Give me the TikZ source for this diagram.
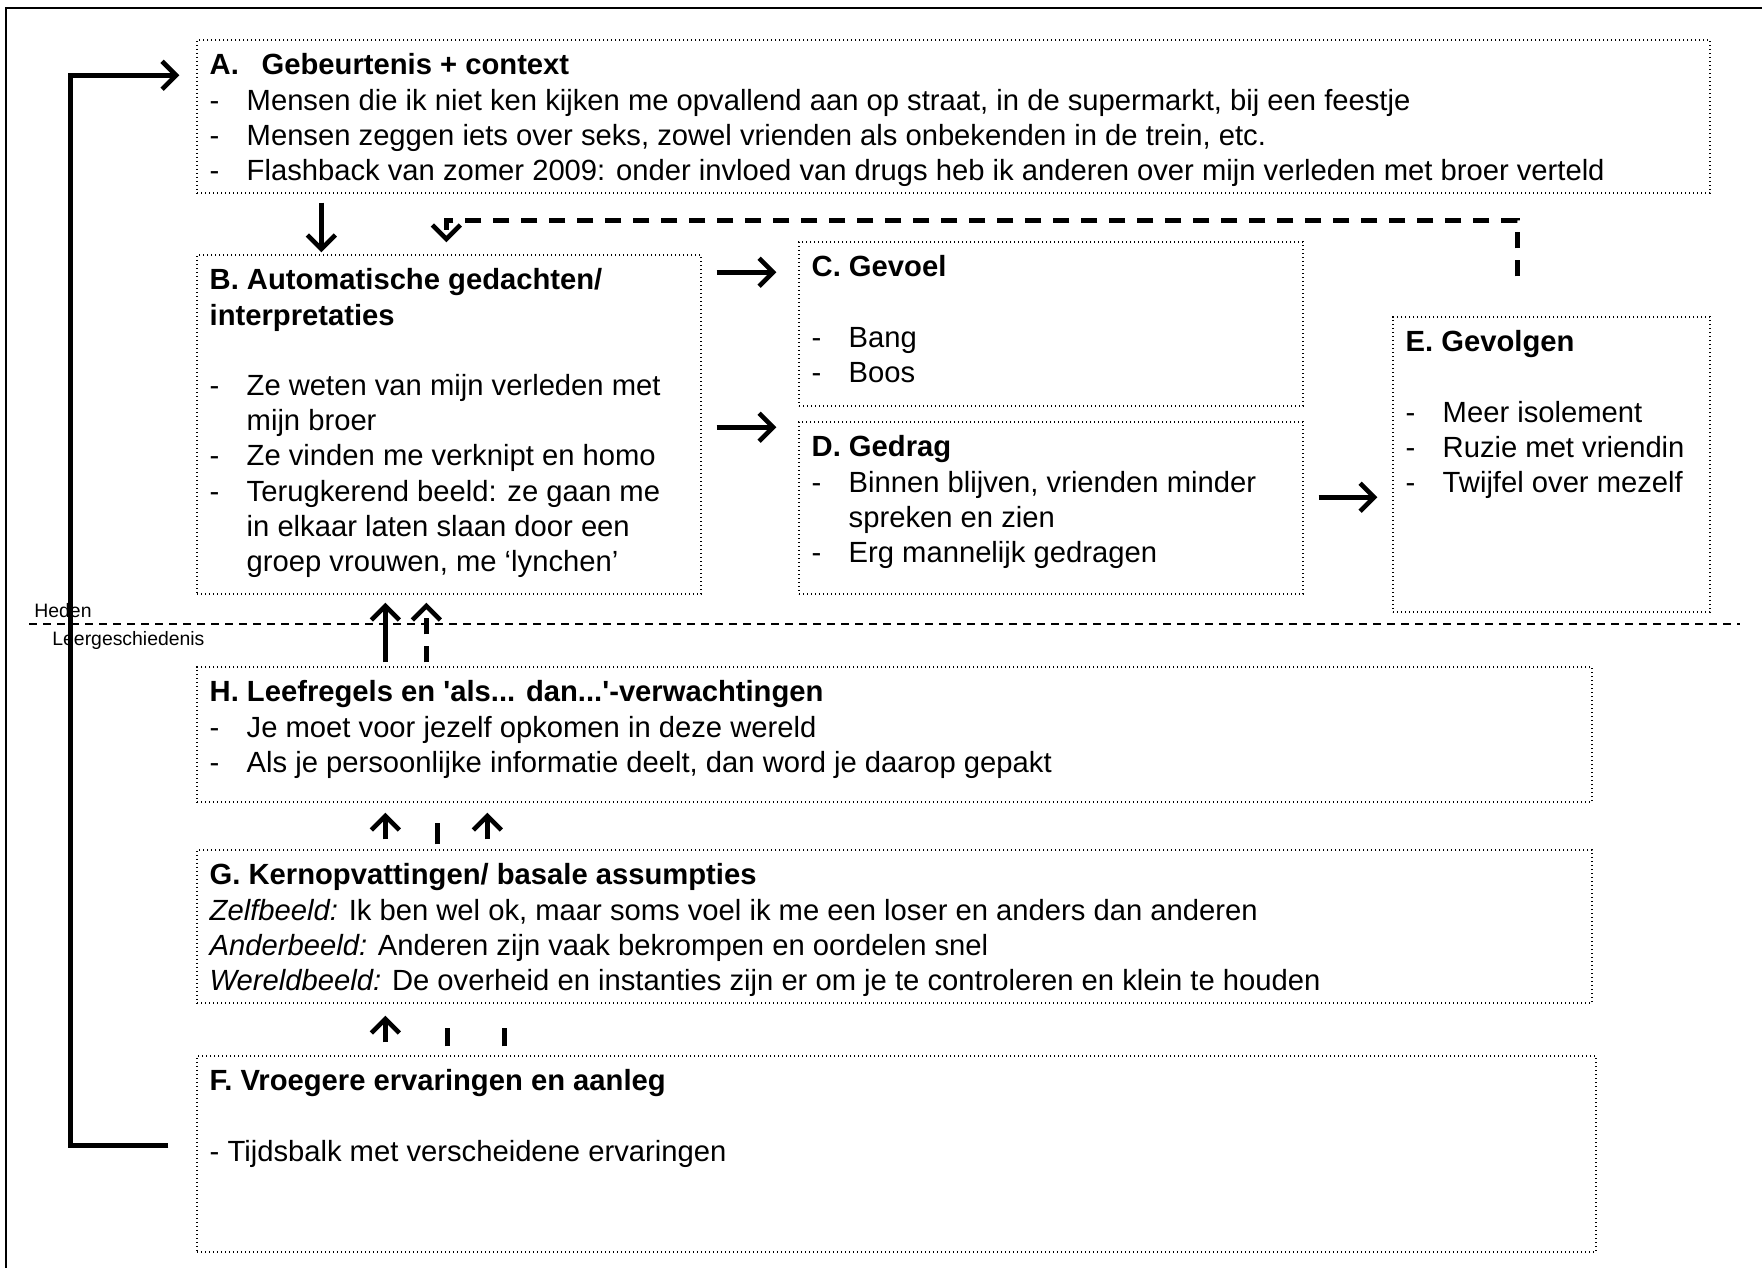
\documentclass[tikz,border=0pt]{standalone}
\usepackage{fontspec}
\setmainfont{Liberation Sans}[Ligatures=TeXOff]
\usetikzlibrary{arrows.meta, positioning, fit, calc}

\newcommand{\li}{\makebox[18.5pt][l]{-}}
\newcommand{\lc}{\hspace*{18.5pt}}

\begin{document}
\begin{tikzpicture}[
    x=0.5pt, y=-0.5pt,
    box/.style={draw, line width=0.7pt, dash pattern=on 0.7pt off 1.3pt, inner sep=0pt},
    txt/.style={anchor=north west, align=left, inner xsep=6.5pt, inner ysep=7pt, font=\fontsize{14.6}{17.6}\selectfont},
    small/.style={anchor=west, inner sep=0pt, font=\fontsize{9.7}{11}\selectfont},
    arrow/.style={-{Straight Barb[length=7pt,width=14pt]}, line width=2.3pt},
    darrow/.style={arrow, dash pattern=on 8.3pt off 5.7pt},
    stub/.style={line width=2.3pt}
]
\useasboundingbox (0,0) rectangle (1762,1268);

% frame
\draw[line width=1pt] (6,1268) -- (6,8) -- (1762,8);

% A. Gebeurtenis
\node[box, fit={(197,40) (1710,193)}] (gebeurtenis) {};
\node[txt] (gebeurtenis-t) at (gebeurtenis.north west) {\textbf{\makebox[26pt][l]{A.}Gebeurtenis + context}\\
  \li Mensen die ik niet ken kijken me opvallend aan op straat, in de supermarkt, bij een feestje\\
  \li Mensen zeggen iets over seks, zowel vrienden als onbekenden in de trein, etc.\\
  \li Flashback van zomer 2009: onder invloed van drugs heb ik anderen over mijn verleden met broer verteld};

% B. Gedachten
\node[box, fit={(197,255) (701,594)}] (gedachten) {};
\node[txt] (gedachten-t) at (gedachten.north west) {\textbf{B. Automatische gedachten/}\\
  \textbf{interpretaties}\\ ~\\
  \li Ze weten van mijn verleden met\\
  \lc mijn broer\\
  \li Ze vinden me verknipt en homo\\
  \li Terugkerend beeld: ze gaan me\\
  \lc in elkaar laten slaan door een\\
  \lc groep vrouwen, me ‘lynchen’};

% C. Gevoel
\node[box, fit={(799,242) (1303,406)}] (gevoel) {};
\node[txt] (gevoel-t) at (gevoel.north west) {\textbf{C. Gevoel}\\ ~\\
  \li Bang\\
  \li Boos};

% D. Gedrag
\node[box, fit={(799,422) (1303,594)}] (gedrag) {};
\node[txt] (gedrag-t) at (gedrag.north west) {\textbf{D. Gedrag}\\
  \li Binnen blijven, vrienden minder\\
  \lc spreken en zien\\
  \li Erg mannelijk gedragen};

% E. Gevolgen
\node[box, fit={(1393,317) (1710,612)}] (gevolgen) {};
\node[txt] (gevolgen-t) at (gevolgen.north west) {\textbf{E. Gevolgen}\\ ~\\
  \li Meer isolement\\
  \li Ruzie met vriendin\\
  \li Twijfel over mezelf};

% H. Leefregels
\node[box, fit={(197,667) (1592,802)}] (leefregels) {};
\node[txt] (leefregels-t) at (leefregels.north west) {\textbf{H. Leefregels en 'als... dan...'-verwachtingen}\\
  \li Je moet voor jezelf opkomen in deze wereld\\
  \li Als je persoonlijke informatie deelt, dan word je daarop gepakt};

% G. Kernopvattingen
\node[box, fit={(197,850) (1592,1003)}] (kern) {};
\node[txt] (kern-t) at (kern.north west) {\textbf{G. Kernopvattingen/ basale assumpties}\\
  \textit{Zelfbeeld:} Ik ben wel ok, maar soms voel ik me een loser en anders dan anderen\\
  \textit{Anderbeeld:} Anderen zijn vaak bekrompen en oordelen snel\\
  \textit{Wereldbeeld:} De overheid en instanties zijn er om je te controleren en klein te houden};

% F. Vroegere ervaringen
\node[box, fit={(197,1056) (1596,1252)}] (ervaringen) {};
\node[txt] (ervaringen-t) at (ervaringen.north west) {\textbf{F. Vroegere ervaringen en aanleg}\\ ~\\
  - Tijdsbalk met verscheidene ervaringen};

% Heden / Leergeschiedenis
\node[small] (heden) at (34,611) {Heden};
\node[small] (leer) at (52,640) {Leergeschiedenis};
\draw[line width=0.9pt, dash pattern=on 4pt off 3pt] (29,624) -- (1740,624);

% Arrows
\draw[arrow] ($(gebeurtenis.south west)+(125,9)$) -- ($(gedachten.north west)+(125,-2)$);
\draw[arrow] ($(gedachten.north east)+(15,18)$) -- ($(gevoel.north west)+(-22,31)$);
\draw[arrow] ($(gedachten.north east)+(15,173)$) -- ($(gedrag.north west)+(-22,6)$);
\draw[arrow] ($(gedrag.north east)+(15,76)$) -- ($(gevolgen.north west)+(-15,181)$);
\draw[darrow] ($(gevolgen.north west)+(125,-40)$) |- ($(gedachten.north west)+(250,-34)$) -- ($(gedachten.north west)+(250,-12)$);

\draw[arrow] ($(leefregels.north west)+(189,-4)$) -- ($(gedachten.south west)+(189,8)$);
\draw[darrow] ($(leefregels.north west)+(230,-4)$) -- ($(gedachten.south west)+(230,8)$);

\draw[arrow] ($(kern.north west)+(189,-10)$) -- ($(leefregels.south west)+(189,10)$);
\draw[stub] ($(kern.north west)+(241,-5)$) -- ($(leefregels.south west)+(241,20)$);
\draw[arrow] ($(kern.north west)+(291,-10)$) -- ($(leefregels.south west)+(291,10)$);

\draw[arrow] ($(ervaringen.north west)+(189,-13)$) -- ($(kern.south west)+(189,12)$);
\draw[stub] ($(ervaringen.north west)+(251,-9)$) -- ($(kern.south west)+(251,24)$);
\draw[stub] ($(ervaringen.north west)+(308,-9)$) -- ($(kern.south west)+(308,24)$);

% Feedback
\draw[arrow] ($(ervaringen.north west)+(-28,90)$) -- ++(-98,0) |- ($(gebeurtenis.north west)+(-17,36)$);

\end{tikzpicture}
\end{document}
